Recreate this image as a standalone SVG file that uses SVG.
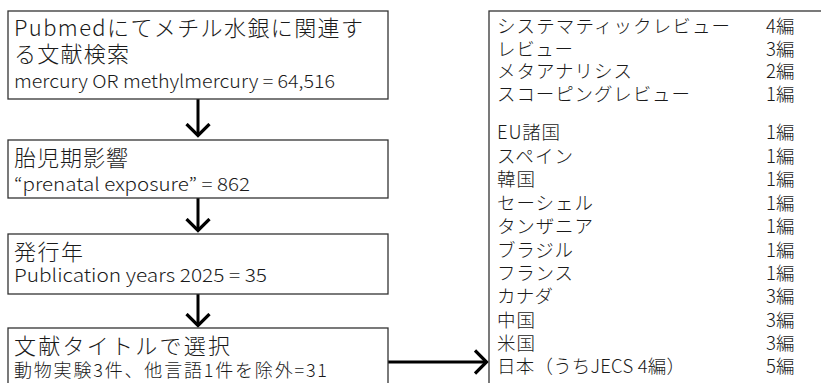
<svg xmlns="http://www.w3.org/2000/svg" width="821" height="383" viewBox="0 0 821 383">
<style>
.box{fill:#fff;stroke:#333;stroke-width:1.3}
.t{font-family:"Noto Sans CJK JP","Noto Sans",sans-serif;fill:#1a1a1a;font-weight:300}
.h{font-size:22px}
.s{font-size:18px}
.r{font-size:18.5px}
.arr{stroke:#000;stroke-width:3;fill:none}
</style>
<defs>
<marker id="chev" markerUnits="userSpaceOnUse" markerWidth="20" markerHeight="30" refX="13.5" refY="13" orient="auto" viewBox="0 0 20 30">
<path d="M1.5,1.5 L13,13 L1.5,24.5" fill="none" stroke="#000" stroke-width="3.2"/>
</marker>
</defs>
<rect width="821" height="383" fill="#fff"/>
<g id="connectors">
<line class="arr" x1="198" y1="99" x2="198" y2="136" marker-end="url(#chev)"/>
<line class="arr" x1="198" y1="198" x2="198" y2="231" marker-end="url(#chev)"/>
<line class="arr" x1="198" y1="294" x2="198" y2="326" marker-end="url(#chev)"/>
<line class="arr" x1="388" y1="362" x2="487" y2="362" marker-end="url(#chev)"/>
</g>
<g id="node1">
<rect class="box" x="8" y="11" width="380" height="88"/>
<text class="t h" x="14" y="36" textLength="349">Pubmedにてメチル水銀に関連す</text>
<text class="t h" x="14" y="62" textLength="115">る文献検索</text>
<text class="t s" x="14" y="88" textLength="321" lengthAdjust="spacingAndGlyphs">mercury OR methylmercury = 64,516</text>
</g>
<g id="node2">
<rect class="box" x="8" y="140" width="380" height="58"/>
<text class="t h" x="14" y="166" textLength="114">胎児期影響</text>
<text class="t s" x="14" y="191" textLength="236" lengthAdjust="spacingAndGlyphs">“prenatal exposure” = 862</text>
</g>
<g id="node3">
<rect class="box" x="8" y="234" width="380" height="60"/>
<text class="t h" x="14" y="260" textLength="69">発行年</text>
<text class="t s" x="14" y="282" textLength="253" lengthAdjust="spacingAndGlyphs">Publication years 2025 = 35</text>
</g>
<g id="node4">
<rect class="box" x="8" y="328" width="380" height="70"/>
<text class="t h" x="14" y="354" textLength="216">文献タイトルで選択</text>
<text class="t s" x="14" y="377" textLength="313">動物実験3件、他言語1件を除外=31</text>
</g>
<g id="node5">
<rect class="box" x="489" y="11" width="345" height="385"/>
<text class="t r" x="497" y="33" textLength="233">システマティックレビュー</text>
<text class="t r" x="497" y="56" textLength="76">レビュー</text>
<text class="t r" x="497" y="78" textLength="135">メタアナリシス</text>
<text class="t r" x="497" y="101" textLength="193">スコーピングレビュー</text>
<text class="t r" x="497" y="139" textLength="63">EU諸国</text>
<text class="t r" x="497" y="163" textLength="76">スペイン</text>
<text class="t r" x="497" y="186" textLength="38">韓国</text>
<text class="t r" x="497" y="210" textLength="96">セーシェル</text>
<text class="t r" x="497" y="233" textLength="96">タンザニア</text>
<text class="t r" x="497" y="257" textLength="76">ブラジル</text>
<text class="t r" x="497" y="280" textLength="76">フランス</text>
<text class="t r" x="497" y="303" textLength="56">カナダ</text>
<text class="t r" x="497" y="327" textLength="38">中国</text>
<text class="t r" x="497" y="350" textLength="38">米国</text>
<text class="t r" x="497" y="373" textLength="188">日本（うちJECS 4編）</text>
<g class="t r">
<text x="766" y="33">4編</text>
<text x="766" y="56">3編</text>
<text x="766" y="78">2編</text>
<text x="766" y="101">1編</text>
<text x="766" y="139">1編</text>
<text x="766" y="163">1編</text>
<text x="766" y="186">1編</text>
<text x="766" y="210">1編</text>
<text x="766" y="233">1編</text>
<text x="766" y="257">1編</text>
<text x="766" y="280">1編</text>
<text x="766" y="303">3編</text>
<text x="766" y="327">3編</text>
<text x="766" y="350">3編</text>
<text x="766" y="373">5編</text>
</g>
</g>
</svg>
